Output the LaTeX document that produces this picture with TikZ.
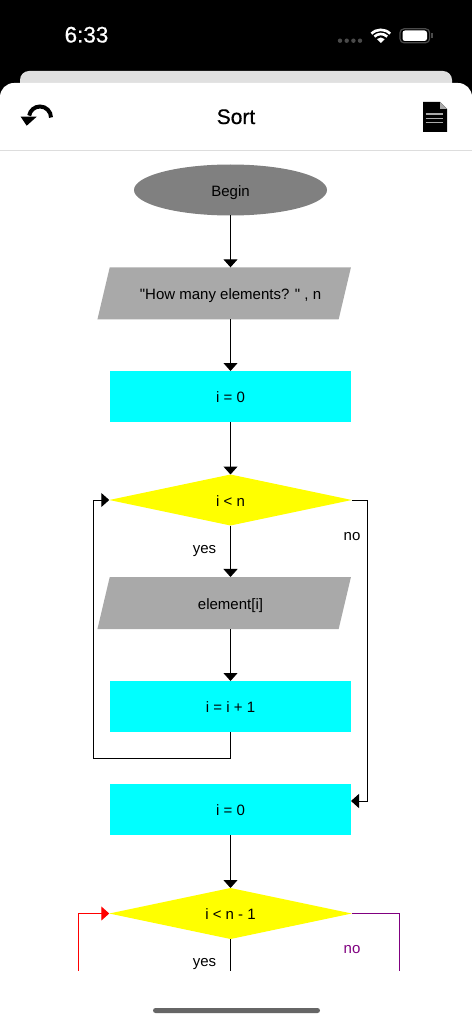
\documentclass[tikz,border=0pt]{standalone}
\usepackage{fontspec}
\newfontfamily\fcfont{Liberation Sans}
\newfontfamily\fcboldfont[FakeBold=0.5]{Liberation Sans}
\usepackage{xcolor}
\usepackage{tikz}
\usetikzlibrary{
  arrows.meta,
  shapes.geometric,
  calc
}
\definecolor{fcCyan}{HTML}{00FFFF}
\definecolor{fcYellow}{HTML}{FFFF00}
\definecolor{fcInput}{HTML}{A9A9A9}
\definecolor{fcBegin}{HTML}{808080}
\definecolor{fcPurple}{HTML}{800080}
\definecolor{fcRed}{HTML}{FF0000}
\definecolor{fcRule}{HTML}{DDDDDD}
\definecolor{fcCard}{HTML}{E0E0E0}
\definecolor{fcDots}{HTML}{4A4A4A}
\definecolor{fcBar}{HTML}{666666}
\tikzset{
  fcnode/.style={
    inner sep=0pt, outer sep=0pt, align=center, text height=12.5pt, text depth=0pt,
    font=\fcfont\fontsize{15}{18}\selectfont
  },
  fcbegin/.style={fcnode, ellipse, fill=fcBegin, minimum width=193pt, minimum height=51pt},
  fcinput/.style={
    fcnode, trapezium, trapezium left angle=76.7, trapezium right angle=103.3,
    trapezium stretches body=true, fill=fcInput, inner ysep=19.75pt, minimum width=253.5pt
  },
  fcassign/.style={fcnode, rectangle, fill=fcCyan, minimum width=241pt, minimum height=51pt},
  fctest/.style={fcnode, diamond, aspect=4.73, fill=fcYellow, minimum width=242.5pt, minimum height=51pt},
  fcline/.style={line width=1pt, black},
  fcarrow/.style={fcline, -{Triangle[length=8pt,width=14pt]}},
  fclabel/.style={fcnode},
  fcbar/.style={fcnode, font=\fcboldfont\fontsize{21}{25}\selectfont, text height=14pt}
}

\begin{document}
\begin{tikzpicture}[x=1pt,y=-1pt]
  \useasboundingbox (0,0) rectangle (472,1024);
  % phone frame
  \fill[black] (0,0) rectangle (472,120);
  \fill[fcCard, rounded corners=9pt] (20,71) rectangle (452,110);
  \fill[white, rounded corners=14pt] (0,1024) -- (0,83) -- (472,83) -- (472,1024);
  \draw[fcRule, line width=1pt] (0,150.5) -- (472,150.5);
  \node[fcbar, text=white, font=\fcboldfont\fontsize{22.5}{27}\selectfont, text height=15pt] (clock) at (86.5,35) {6:33};
  \foreach \xpos in {340,346.7,353.4,360} {
    \fill[fcDots] (\xpos,40.7) circle[radius=2.2pt];
  }
  % wifi
  \coordinate (wifi) at (380.8,43);
  \fill[white] (wifi) -- ++(45:5.5pt) arc[start angle=45, end angle=135, radius=5.5pt] -- cycle;
  \foreach \rad in {9,13.2} {
    \draw[white, line width=2.6pt] (wifi) ++(45:\rad pt) arc[start angle=45, end angle=135, radius=\rad pt];
  }
  % battery
  \draw[fcDots, line width=1.2pt, rounded corners=4pt] (400,28.8) rectangle (429.6,42.8);
  \fill[white, rounded corners=2.5pt] (402.5,30.5) rectangle (427,41);
  \fill[fcDots] (431,33) rectangle (433,38);
  % back icon
  \draw[black, line width=4pt] (51,117.5) arc[start angle=0, end angle=170, radius=11pt];
  \fill[black] (20.7,116.7) -- (36.7,116.7) -- (26.7,125.7) -- cycle;
  \node[fcbar] (title) at (236,117) {Sort};
  % doc icon
  \fill[black] (423,102) -- (440,102) -- (447,109) -- (447,132) -- (423,132) -- cycle;
  \fill[fcInput] (440,102) -- (447,109) -- (440,109) -- cycle;
  \foreach \ypos in {114,118.3,122.4} {
    \draw[fcInput, line width=1.2pt] (425.7,\ypos) -- (443,\ypos);
  }
  \fill[fcBar, rounded corners=2.5pt] (153,1008) rectangle (320,1013);

  % flowchart
  \node[fcbegin] (begin) at (230.5,190) {Begin};
  \node[fcinput] (input1) at (224.2,293.3) {\hspace*{12.6pt}"How many elements? " , n};
  \node[fcassign] (assign1) at (230.5,396.5) {i = 0};
  \node[fctest] (test1) at (230.5,500) {i < n};
  \node[fcinput] (input2) at (224.2,603) {\hspace*{12.6pt}element[i]};
  \node[fcassign] (assign2) at (230.5,706.5) {i = i + 1};
  \node[fcassign] (assign3) at (230.5,809.5) {i = 0};
  \node[fctest] (test2) at (230.5,913.5) {i < n - 1};

  \node[fclabel] (yes1) at (204.5,547) {yes};
  \node[fclabel] (no1) at (352,534) {no};
  \node[fclabel] (yes2) at (204.5,960) {yes};
  \node[fclabel, text=fcPurple] (no2) at (352,947) {no};

  \coordinate (loop1) at (93,758);
  \coordinate (exit1) at (367,500);
  \coordinate (exit1in) at (351,801);
  \coordinate (yes2end) at (230.5,970.5);
  \coordinate (loop2) at (78,970.5);
  \coordinate (exit2) at (399.5,970.5);

  \draw[fcarrow] (begin.south) -- (begin.south |- input1.north);
  \draw[fcarrow] (assign1.north |- input1.south) -- (assign1.north);
  \draw[fcarrow] (assign1.south) -- (test1.north);
  \draw[fcarrow] (test1.south) -- (test1.south |- input2.north);
  \draw[fcarrow] (assign2.north |- input2.south) -- (assign2.north);
  \draw[fcarrow] (assign2.south) |- (loop1) |- (test1.west);
  \draw[fcarrow] (test1.east) -- (exit1) |- (exit1in);
  \draw[fcarrow] (assign3.south) -- (test2.north);
  \draw[fcline] (test2.south) -- (yes2end);
  \draw[fcarrow, fcRed] (loop2) |- (test2.west);
  \draw[fcline, fcPurple] (test2.east) -| (exit2);
\end{tikzpicture}
\end{document}
